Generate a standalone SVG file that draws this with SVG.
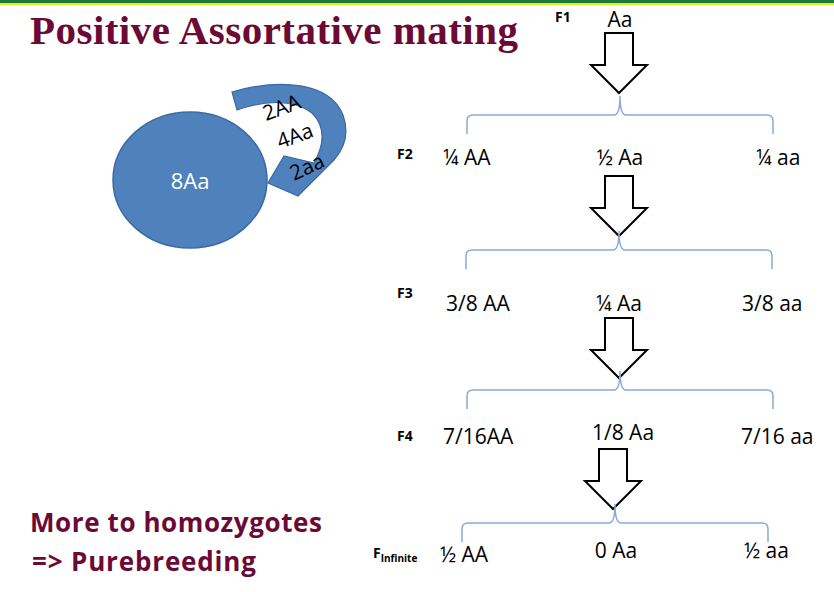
<svg xmlns="http://www.w3.org/2000/svg" width="834" height="592" viewBox="0 0 834 592">
<defs>
<style>
.t{font-family:"Open Sans","Liberation Sans",sans-serif;font-size:21px;fill:#000}
.g{font-family:"Open Sans","Liberation Sans",sans-serif;font-size:14px;font-weight:bold;fill:#000}
.arr{fill:#fff;stroke:#000;stroke-width:2}
.br{fill:none;stroke:#8aa9d6;stroke-width:1.5}
.m{font-family:"Open Sans","Liberation Sans",sans-serif;font-size:26px;font-weight:bold;fill:#6b0a35}
</style>
<path id="a" class="arr" d="M-14,0 H14 V32 H28 L0,60 L-28,32 H-14 Z"/>
<path id="b" class="br" d="M-153,19 V6 Q-153,0 -147,0 H-6 Q0,0 0,-19 Q0,0 6,0 H147 Q153,0 153,6 V19"/>
</defs>
<rect x="0" y="0" width="834" height="3" fill="#1a7a3a"/>
<rect x="0" y="3" width="834" height="2" fill="#f0e81a"/>
<text x="30" y="44" font-family="Liberation Serif,serif" font-size="41" font-weight="bold" fill="#6b0a35" textLength="488">Positive Assortative mating</text>
<g id="cycle">
<ellipse cx="190" cy="180" rx="77" ry="68" fill="#4f81bd" stroke="#3a6aa3" stroke-width="1.5"/>
<text x="190" y="189" text-anchor="middle" font-family="Open Sans,Liberation Sans,sans-serif" font-size="22" fill="#fff">8Aa</text>
<path d="M232,92 C280,78 330,82 343,115 C350,135 343,150 334,160 L298,196 L268,183 L284,156 L314,163 C324,145 326,127 312,113 C292,98 262,101 237,110 Z" fill="#4f81bd" stroke="#3a6aa3" stroke-width="1.2"/>
<text class="t" x="0" y="0" font-size="18" transform="translate(266,121) rotate(-20)">2AA</text>
<text class="t" x="0" y="0" font-size="18" transform="translate(280,149) rotate(-20)">4Aa</text>
<text class="t" x="0" y="0" font-size="18" transform="translate(294,181) rotate(-25)">2aa</text>
</g>
<g id="connectors">
<use href="#a" x="619" y="33"/>
<use href="#a" x="619" y="176"/>
<use href="#a" x="619" y="318"/>
<use href="#a" x="613" y="449"/>
<use href="#b" x="620" y="115"/>
<use href="#b" x="619" y="250"/>
<use href="#b" x="620" y="390"/>
<use href="#b" x="615" y="523"/>
</g>
<g id="F1"><text class="g" x="555" y="22">F1</text><text class="t" x="620" y="27" text-anchor="middle">Aa</text></g>
<g id="F2"><text class="g" x="397" y="159">F2</text><text class="t" x="443" y="165">¼ AA</text><text class="t" x="620" y="165" text-anchor="middle">½ Aa</text><text class="t" x="756" y="165">¼ aa</text></g>
<g id="F3"><text class="g" x="397" y="298">F3</text><text class="t" x="446" y="311">3/8 AA</text><text class="t" x="619" y="311" text-anchor="middle">¼ Aa</text><text class="t" x="742" y="311">3/8 aa</text></g>
<g id="F4"><text class="g" x="397" y="441">F4</text><text class="t" x="443" y="444">7/16AA</text><text class="t" x="623" y="440" text-anchor="middle">1/8 Aa</text><text class="t" x="741" y="444">7/16 aa</text></g>
<g id="Finf"><text class="g" x="373" y="558">F<tspan font-size="10" dy="4">Infinite</tspan></text><text class="t" x="440" y="562">½ AA</text><text class="t" x="616" y="558" text-anchor="middle">0 Aa</text><text class="t" x="744" y="558">½ aa</text></g>
<g id="note"><text class="m" x="30" y="532" textLength="292">More to homozygotes</text><text class="m" x="32" y="571" textLength="224">=&gt; Purebreeding</text></g>
</svg>
